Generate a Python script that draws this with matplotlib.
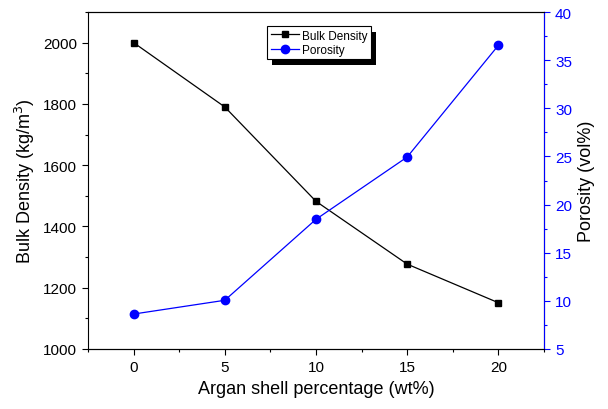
import numpy as np
import matplotlib.pyplot as plt
from matplotlib.ticker import MultipleLocator
from matplotlib.patches import Rectangle

plt.rcParams['font.family'] = ['Liberation Sans', 'DejaVu Sans']

shell = [0, 5, 10, 15, 20]
bulk_density = [2000, 1790, 1482, 1277, 1151]
porosity = [8.63, 10.06, 18.47, 24.94, 36.54]

fig = plt.figure(figsize=(6.08, 4.10), dpi=100)
ax = fig.add_axes([88/608, 60/410, 456/608, 337/410])
ax2 = ax.twinx()

l1, = ax.plot(shell, bulk_density, '-s', color='black', lw=0.9, ms=5, label='Bulk Density')
l2, = ax2.plot(shell, porosity, '-o', color='blue', lw=0.9, ms=6, label='Porosity')

ax.set_xlim(-2.5, 22.5)
ax.set_ylim(1000, 2100)
ax2.set_ylim(5, 40)
ax.set_xticks([0, 5, 10, 15, 20])
ax.xaxis.set_minor_locator(MultipleLocator(2.5))
ax.set_yticks([1000, 1200, 1400, 1600, 1800, 2000])
ax.yaxis.set_minor_locator(MultipleLocator(100))
ax2.set_yticks([5, 10, 15, 20, 25, 30, 35, 40])
ax2.yaxis.set_minor_locator(MultipleLocator(2.5))

for a in (ax, ax2):
    a.tick_params(which='major', direction='out', length=4.5, width=0.8, labelsize=11)
    a.tick_params(which='minor', direction='out', length=2.5, width=0.8)

ax2.spines['right'].set_color('blue')
ax2.spines['left'].set_visible(False)
ax2.tick_params(axis='y', which='both', colors='blue')

ax.set_xlabel('Argan shell percentage (wt%)', fontsize=13)
ax.set_ylabel('Bulk Density (kg/m$^3$)', fontsize=13)
ax2.set_ylabel('Porosity (vol%)', fontsize=13, color='black')

leg = ax2.legend(handles=[l1, l2], loc='upper left', bbox_to_anchor=((267-88)/456, (350-27)/337),
                 fontsize=8.5, frameon=True, fancybox=False, edgecolor='black', framealpha=1,
                 borderpad=0.3, labelspacing=0.2,
                 handlelength=2.4, handletextpad=0.3, borderaxespad=0)
leg.get_frame().set_linewidth(0.8)
leg.set_zorder(10)

# black drop shadow behind the legend
fig.canvas.draw()
bb = leg.get_window_extent()
shadow = Rectangle((bb.x0 + 5, bb.y0 - 6), bb.width, bb.height, transform=None,
                   facecolor='black', edgecolor='none', zorder=9)
ax2.add_artist(shadow)

fig.savefig('out.png', dpi=100)
